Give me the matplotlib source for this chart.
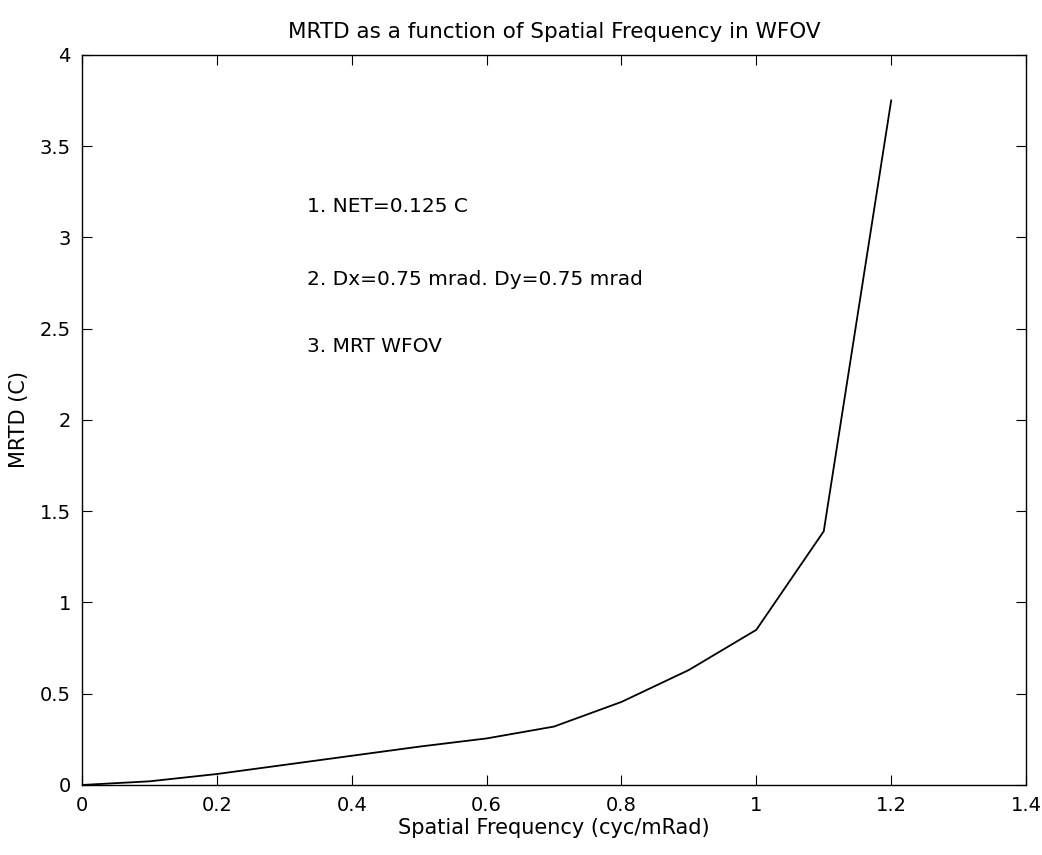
import numpy as np
import matplotlib.pyplot as plt
from matplotlib.ticker import FormatStrFormatter

# values (vertices every 0.1 cyc/mRad)
freq = [0.0, 0.1, 0.2, 0.3, 0.4, 0.5, 0.6, 0.7, 0.8, 0.9, 1.0, 1.1, 1.2]
mrtd = [0.0, 0.02, 0.06, 0.11, 0.16, 0.21, 0.255, 0.32, 0.455, 0.63, 0.85, 1.39, 3.75]

notes = ['1. NET=0.125 C', '2. Dx=0.75 mrad. Dy=0.75 mrad', '3. MRT WFOV']
notes_y = [3.17, 2.77, 2.40]

xticks = np.arange(0, 1.41, 0.2)
yticks = np.arange(0, 4.01, 0.5)

plt.rcParams['font.family'] = 'DejaVu Sans'

fig = plt.figure(figsize=(10.42, 8.55), dpi=100)
ax = fig.add_axes([0.0787, 0.0819, 0.906, 0.854])

ax.plot(freq, mrtd, color='black', lw=1.3)

for txt, yy in zip(notes, notes_y):
    ax.text(0.333, yy, txt, fontsize=14.5, va='center', ha='left')

ax.set_xlim(0, 1.4)
ax.set_ylim(0, 4)
ax.set_xticks(xticks)
ax.set_yticks(yticks)
ax.xaxis.set_major_formatter(FormatStrFormatter('%g'))
ax.yaxis.set_major_formatter(FormatStrFormatter('%g'))
ax.tick_params(direction='in', top=True, right=True, length=7, width=0.8,
               labelsize=14, pad=8)
for s in ax.spines.values():
    s.set_linewidth(1.0)

ax.set_title('MRTD as a function of Spatial Frequency in WFOV', fontsize=15.5, pad=12)
ax.set_xlabel('Spatial Frequency (cyc/mRad)', fontsize=15, labelpad=2)
ax.set_ylabel('MRTD (C)', fontsize=15, labelpad=8)

fig.savefig('out.png', dpi=100)
